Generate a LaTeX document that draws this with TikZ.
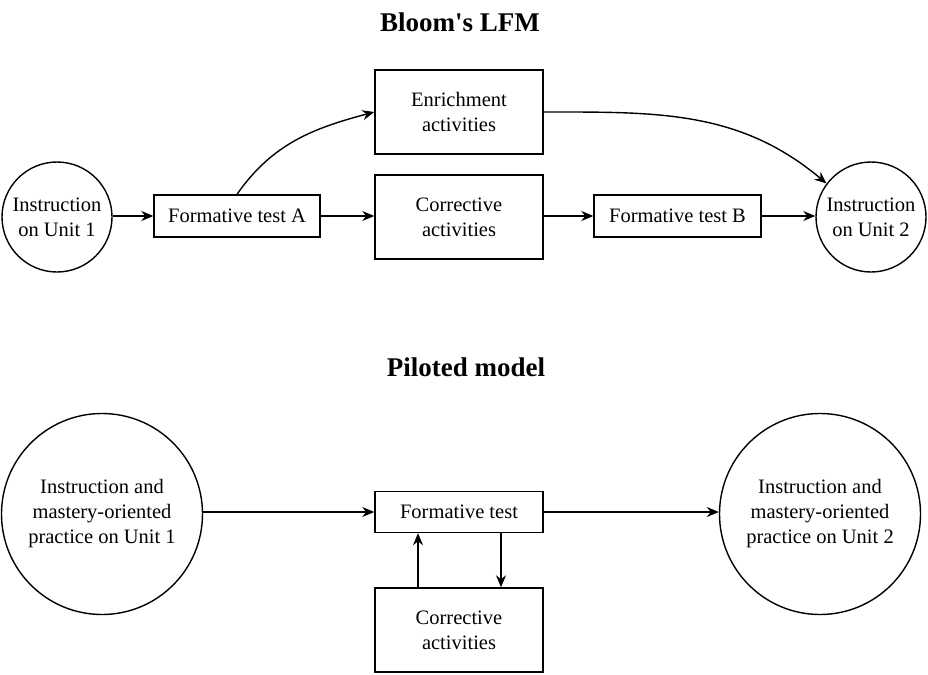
\documentclass[tikz,border=0pt]{standalone}
\usepackage{fontspec}
\newfontfamily\plainserif{Liberation Serif}
\usetikzlibrary{arrows.meta}
\begin{document}
\begin{tikzpicture}[x=1pt,y=-1pt,
  every node/.style={font=\plainserif\fontsize{20.5}{25}\selectfont, align=center, line width=1.4pt},
  box/.style={draw, rectangle, inner sep=0pt},
  circ/.style={draw, circle, inner sep=0pt},
  title/.style={font=\plainserif\fontsize{27}{30}\selectfont\bfseries},
  arr/.style={-{Stealth[length=12pt,width=10pt]}, line width=1.4pt}]
\useasboundingbox (0,0) rectangle (928,674);
\node[title] (t1) at (460,22) {Bloom's LFM};
\node[circ, minimum size=110pt] (c1) at (57,217) {Instruction\\on Unit 1};
\node[box, minimum width=166pt, minimum height=42pt] (fa) at (237,216) {Formative test A};
\node[box, minimum width=168pt, minimum height=84pt] (en) at (459,112) {Enrichment\\activities};
\node[box, minimum width=168pt, minimum height=84pt] (co) at (459,217) {Corrective\\activities};
\node[box, minimum width=167pt, minimum height=42pt] (fb) at (677.5,216) {Formative test B};
\node[circ, minimum size=110pt] (c2) at (871,217) {Instruction\\on Unit 2};
\draw[arr] (c1.east |- fa) -- (fa);
\draw[arr] (fa) -- (co.west |- fa);
\draw[arr] (co.east |- fb) -- (fb);
\draw[arr] (fb) -- (c2.west |- fb);
\draw[arr] (fa.north) to[out=55,in=195] (en.west);
\draw[arr] (en.east) to[out=0,in=140] (c2.143);

\node[title] (t2) at (466,367) {Piloted model};
\node[circ, minimum size=201pt] (p1) at (102,514) {Instruction and\\mastery-oriented\\practice on Unit 1};
\node[box, minimum width=168pt, minimum height=41pt] (ft) at (459,512) {Formative test};
\node[box, minimum width=168pt, minimum height=84pt] (ca) at (459,630) {Corrective\\activities};
\node[circ, minimum size=201pt] (p2) at (820,514) {Instruction and\\mastery-oriented\\practice on Unit 2};
\draw[arr] (p1.east |- ft) -- (ft);
\draw[arr] (ft) -- (p2.west |- ft);
\coordinate (u) at (418,0);
\coordinate (d) at (501,0);
\draw[arr] (ca.north -| u) -- (ft.south -| u);
\draw[arr] (ft.south -| d) -- (ca.north -| d);
\end{tikzpicture}
\end{document}
